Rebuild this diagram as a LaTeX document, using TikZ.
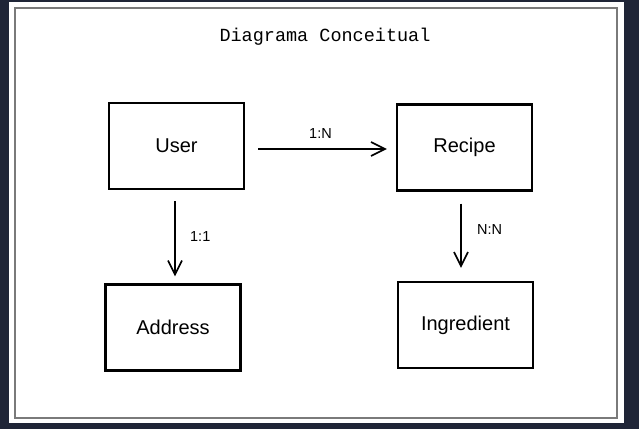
\documentclass[tikz,border=0pt]{standalone}
\usepackage{fontspec}
\setmainfont{Liberation Sans}
\newfontfamily\titlefont{Liberation Mono}
\usetikzlibrary{arrows.meta, positioning}
\definecolor{canvasdark}{HTML}{1F2537}
\definecolor{framegray}{HTML}{7A7A7A}

\begin{document}
\begin{tikzpicture}[x=1pt, y=-1pt,
  entity/.style={draw, line width=2.2pt, minimum width=135pt, minimum height=86pt,
    inner sep=0pt, font=\fontsize{20}{22}\selectfont},
  rel/.style={line width=1.7pt, -{Straight Barb[length=14pt,width=14pt]}},
  card/.style={font=\fontsize{14.5}{16}\selectfont}]
% canvas
\fill[canvasdark] (0,0) rectangle (639,429);
\fill[white] (9,2) rectangle (624,423);
\draw[framegray, line width=1.2pt] (15,8) rectangle (617,418);
\useasboundingbox (0,0) rectangle (639,429);

\node[font=\titlefont\fontsize{18.5}{20}\selectfont] (title) at (325,37) {Diagrama Conceitual};

% entities
\node[entity] (user) at (176.5,146) {User};
\node[entity] (recipe) at (464.5,147.5) {Recipe};
\node[entity] (address) at (173,327.5) {Address};
\node[entity] (ingredient) at (465.5,325) {Ingredient};

% relations
\draw[rel, shorten <=13pt, shorten >=9pt] ([yshift=-3pt]user.east) -- ([yshift=-1.5pt]recipe.west)
  node[card, midway, above=6pt] {1:N};
\draw[rel, shorten <=11pt, shorten >=7pt] ([xshift=-1.5pt]user.south) -- ([xshift=-1.5pt]user.south |- address.north)
  node[card, midway, right=11pt] {1:1};
\draw[rel, shorten <=12pt, shorten >=13pt] ([xshift=-3.5pt]recipe.south) -- ([xshift=-3.5pt]recipe.south |- ingredient.north)
  node[card, pos=0.43, right=12pt] {N:N};
\end{tikzpicture}
\end{document}
